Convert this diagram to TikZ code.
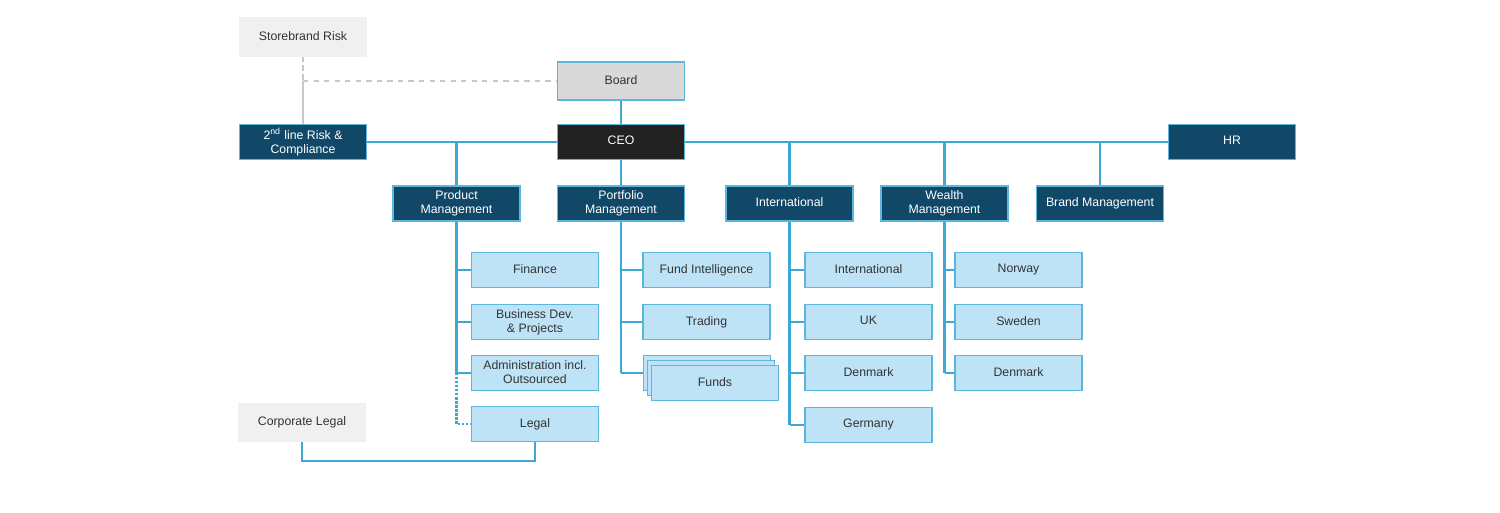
\documentclass[tikz,border=0pt]{standalone}
\usepackage{fontspec}
\setmainfont{Liberation Sans}
\definecolor{navy}{HTML}{114868}
\definecolor{edge}{HTML}{5DB7DD}
\definecolor{conn}{HTML}{3DA8D3}
\definecolor{lightb}{HTML}{BEE3F6}
\definecolor{lgray}{HTML}{F0F0F0}
\definecolor{mgray}{HTML}{D9D9D9}
\definecolor{ceoc}{HTML}{222222}
\definecolor{txt}{HTML}{333333}
\definecolor{dgray}{HTML}{C8C8C8}
\newcommand\boxstrut{\rule[-1.6pt]{0pt}{6.6pt}}
\tikzset{
  base/.style={rectangle, minimum width=2.54cm, minimum height=0.70cm, inner sep=1pt, align=center, font=\fontsize{7}{8}\selectfont, line width=0.8pt, execute at begin node=\boxstrut},
  darkbox/.style={base, fill=navy, draw=edge, text=white},
  lightbox/.style={base, fill=lightb, draw=edge, text=txt},
  graybox/.style={base, fill=lgray, draw=lgray, text=txt, minimum height=0.76cm},
  boardbox/.style={base, fill=mgray, draw=edge, text=txt, minimum height=0.76cm},
  ceobox/.style={base, fill=ceoc, draw=edge, text=white},
  link/.style={draw=conn, line width=1.3pt},
  glink/.style={draw=dgray, line width=0.9pt},
}
\begin{document}
\begin{tikzpicture}[x=0.02cm, y=-0.02cm]
\useasboundingbox (0,0) rectangle (1500,513);
% top level
\node[graybox] (store) at (303,37) {Storebrand Risk};
\node[boardbox] (board) at (621,81) {Board};
\node[darkbox] (risk) at (303,142) {2\textsuperscript{nd} line Risk \&\\Compliance};
\node[ceobox] (ceo) at (621,142) {CEO};
\node[darkbox] (hr) at (1232,142) {HR};
% second level
\node[darkbox] (prod) at (456.5,203.5) {Product\\Management};
\node[darkbox] (port) at (621,203.5) {Portfolio\\Management};
\node[darkbox] (intl) at (789.5,203.5) {International};
\node[darkbox] (wealth) at (944.5,203.5) {Wealth\\Management};
\node[darkbox] (brand) at (1100,203.5) {Brand Management};
% product children
\node[lightbox] (fin) at (535,270) {Finance};
\node[lightbox] (bdev) at (535,322) {Business Dev.\\\& Projects};
\node[lightbox] (admin) at (535,373) {Administration incl.\\Outsourced};
\node[lightbox] (legal) at (535,424) {Legal};
\node[graybox] (corp) at (302,422.5) {Corporate Legal};
% portfolio children
\node[lightbox] (fint) at (706.5,270) {Fund Intelligence};
\node[lightbox] (trad) at (706.5,322) {Trading};
\node[lightbox] (fundsc) at (707,373) {};
\node[lightbox] (fundsb) at (711,378) {};
\node[lightbox] (funds) at (715,383) {Funds};
% international children
\node[lightbox] (iint) at (868.5,270) {International};
\node[lightbox] (iuk) at (868.5,322) {UK};
\node[lightbox] (iden) at (868.5,373) {Denmark};
\node[lightbox] (iger) at (868.5,425) {Germany};
% wealth children
\node[lightbox] (wnor) at (1018.5,270) {Norway};
\node[lightbox] (wswe) at (1018.5,322) {Sweden};
\node[lightbox] (wden) at (1018.5,373) {Denmark};
% gray links
\coordinate (sj) at (store.south |- board.west);
\draw[glink, densely dashed] (store.south) -- (sj);
\draw[glink] (sj) -- (risk.north);
\draw[glink, dashed] (sj) -- (board.west);
% main links
\draw[link] (board.south) -- (ceo.north);
\draw[link] (risk.east) -- (ceo.west);
\draw[link] (ceo.east) -- (hr.west);
\draw[link] (prod.north) -- (prod.north |- ceo.west);
\draw[link] (port.north) -- (ceo.south);
\draw[link] (intl.north) -- (intl.north |- ceo.east);
\draw[link] (wealth.north) -- (wealth.north |- ceo.east);
\draw[link] (brand.north) -- (brand.north |- ceo.east);
% product branch
\draw[link] (prod.south) -- (prod.south |- admin.west);
\foreach \c in {fin,bdev,admin} \draw[link] (prod.south |- \c.west) -- (\c.west);
\draw[draw=conn, line width=1.3pt, densely dotted] (prod.south |- admin.west) -- (prod.south |- legal.west) -- (legal.west);
\draw[link] (corp.south) -- ++(0,19) -| (legal.south);
% portfolio branch
\draw[link] (port.south) -- (port.south |- fundsc.west);
\foreach \c in {fint,trad,fundsc} \draw[link] (port.south |- \c.west) -- (\c.west);
% international branch
\draw[link] (intl.south) -- (intl.south |- iger.west);
\foreach \c in {iint,iuk,iden,iger} \draw[link] (intl.south |- \c.west) -- (\c.west);
% wealth branch
\draw[link] (wealth.south) -- (wealth.south |- wden.west);
\foreach \c in {wnor,wswe,wden} \draw[link] (wealth.south |- \c.west) -- (\c.west);
\end{tikzpicture}
\end{document}
